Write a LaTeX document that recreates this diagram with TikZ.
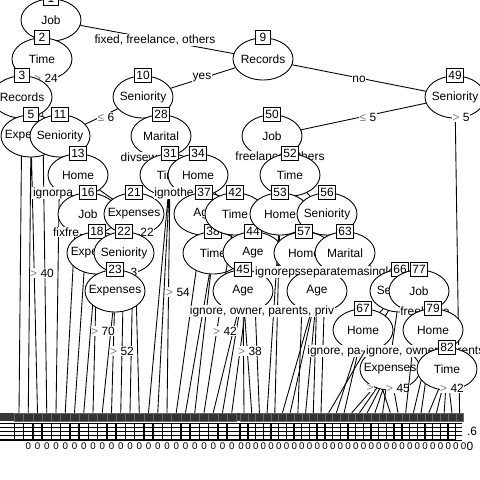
\documentclass[tikz,border=0pt]{standalone}
\usepackage{fontspec}
\setmainfont{Liberation Sans}
\usetikzlibrary{shapes.geometric}
\newcommand{\ctr}[1]{\makebox[0pt]{#1}}
\newcommand{\gsym}[1]{\textcolor{black!50}{#1}}
\newcommand{\treenode}[2]{\node[inner] (n#1) at (c#1) {\ctr{#2}};\node[idbox] (b#1) at (n#1.north) {#1};}
\begin{document}
\begin{tikzpicture}[x=0.03cm,y=-0.03cm,line width=0.75pt,
 every node/.style={font=\fontsize{10.2}{12}\selectfont},
 inner/.style={ellipse,draw,fill=white,minimum width=1.8cm,minimum height=1.26cm,inner sep=0pt},
 idbox/.style={draw,fill=white,inner xsep=1.6pt,inner ysep=0pt,minimum width=12.8pt,minimum height=12.5pt},
 elab/.style={fill=white,inner sep=0.5pt},
 thead/.style={draw=black!60,fill=black!80,minimum height=0.24cm,inner sep=0pt,line width=0.4pt},
 zero/.style={font=\fontsize{8.3}{9}\selectfont,inner sep=0pt},
 barline/.style={line width=1.2pt},
]
\useasboundingbox (0,0) rectangle (480,480);
% centres of the inner nodes
\coordinate (c1) at (51,20);
\coordinate (c2) at (42,59);
\coordinate (c3) at (22,97);
\coordinate (c5) at (31,136);
\coordinate (c9) at (263,59);
\coordinate (c10) at (143,97);
\coordinate (c11) at (60,136);
\coordinate (c13) at (78,175);
\coordinate (c16) at (88,214);
\coordinate (c18) at (97,253);
\coordinate (c21) at (134,214);
\coordinate (c22) at (124,253);
\coordinate (c23) at (115,291);
\coordinate (c28) at (161,136);
\coordinate (c31) at (170,175);
\coordinate (c34) at (198,175);
\coordinate (c37) at (204,214);
\coordinate (c38) at (213,253);
\coordinate (c42) at (235,214);
\coordinate (c44) at (253,253);
\coordinate (c45) at (243,291);
\coordinate (c49) at (455,97);
\coordinate (c50) at (272,136);
\coordinate (c52) at (290,175);
\coordinate (c53) at (280,214);
\coordinate (c56) at (327,214);
\coordinate (c57) at (304,253);
\coordinate (c59) at (317,291);
\coordinate (c63) at (345,253);
\coordinate (c66) at (400,291);
\coordinate (c67) at (363,330);
\coordinate (c68) at (390,369);
\coordinate (c77) at (419,291);
\coordinate (c79) at (433,330);
\coordinate (c82) at (447,369);

% terminal strip
\fill[black!78] (0,413) rectangle (463,421);
\foreach \k in {0,...,23}{
  \pgfmathsetmacro{\tx}{19+9.25*\k}
  \node[thead,minimum width=0.2775cm] (t\k) at (\tx,417) {};
  \draw[barline] (\tx-4.6,423) -- (\tx-4.6,440);
  \node[zero] (z\k) at (\tx+9.3,446) {0};
}
\foreach \k in {0,...,28}{
  \pgfmathsetmacro{\ux}{244+7.7*\k}
  \node[thead,minimum width=0.231cm] (u\k) at (\ux,417) {};
  \draw[barline] (\ux-3.85,423) -- (\ux-3.85,440);
  \node[zero] (y\k) at (\ux+4,446) {0};
}
\foreach \yy in {423.5,427.5,431.5,435.5}{\draw[barline] (0,\yy) -- (455,\yy);}
\foreach \yy in {423.5,427.5,431.5,435.5,440}{\draw[line width=0.6pt] (455,\yy) -- (462,\yy);}
\draw[line width=1.6pt] (0,440) -- (455,440);
\node[inner sep=0pt] (ax1) at (472,431) {.6};
\node[inner sep=0pt] (ax2) at (470,446) {0};

% inner nodes in depth-first order
\treenode{1}{Job}
\draw (n1) -- (c2) (n1) -- (c9);
\node[elab] (l1) at (155,40) {fixed, freelance, others};

\treenode{2}{Time}
\draw (n2) -- (c3) (n2) -- (t3.north);
\node[elab] (l2) at (46,78) {\gsym{>} 24};

\treenode{3}{Records}
\draw (n3) -- (t0.north) (n3) -- (c5);

\treenode{5}{Expenses}
\draw (n5) -- (t1.north) (n5) -- (t2.north);

\treenode{9}{Records}
\draw (n9) -- (c10) (n9) -- (c49);
\node[elab] (l3) at (202,78) {yes};
\node[elab] (l4) at (359,79) {no};

\treenode{10}{Seniority}
\draw (n10) -- (c11) (n10) -- (c28);
\node[elab] (l5) at (106,117) {\gsym{≤} 6};

\treenode{11}{Seniority}
\draw (n11) -- (t4.north) (n11) -- (c13);

\treenode{13}{Home}
\draw (n13) -- (t5.north) (n13) -- (c16) (n13) -- (c21);
\node[elab] (l6) at (53,193) {ignorpa};

\treenode{16}{Job}
\draw (n16) -- (t6.north) (n16) -- (c18);
\node[elab] (l7) at (66,232) {fixfre};

\treenode{18}{Expenses}
\draw (n18) -- (t7.north) (n18) -- (t8.north);
\node[elab] (l8) at (42,273) {\gsym{>} 40};

\treenode{21}{Expenses}
\draw (n21) -- (c22) (n21) -- (t12.north) (n21) -- (t13.north);
\node[elab] (l9) at (147,232) {22};

\treenode{22}{Seniority}
\draw (n22) -- (c23) (n22) -- (t11.north);
\node[elab] (l10) at (134,272) {3};

\treenode{23}{Expenses}
\draw (n23) -- (t9.north) (n23) -- (t10.north);
\node[elab] (l11) at (103,331) {\gsym{>} 70};
\node[elab] (l12) at (122,351) {\gsym{>} 52};

\treenode{28}{Marital}
\draw (n28) -- (c31) (n28) -- (c34);
\node[elab] (l13) at (139,157) {divsew};

\treenode{31}{Time}
\draw (n31) -- (t14.north) (n31) -- (t15.north) (n31) -- (t16.north);

\treenode{34}{Home}
\draw (n34) -- (c37) (n34) -- (c42);
\node[elab] (l14) at (174,193) {ignothe};

\treenode{37}{Age}
\draw (n37) -- (c38) (n37) -- (t17.north);

\treenode{38}{Time}
\draw (n38) -- (t18.north) (n38) -- (t19.north);
\node[elab] (l15) at (178,292) {\gsym{>} 54};

\treenode{42}{Time}
\draw (n42) -- (c44) (n42) -- (t20.north);

\treenode{44}{Age}
\draw (n44) -- (c45) (n44) -- (t23.north) (n44) -- (u2.north);

\treenode{45}{Age}
\draw (n45) -- (t21.north) (n45) -- (t22.north) (n45) -- (u0.north) (n45) -- (u1.north);
\node[elab] (l16) at (225,331) {\gsym{>} 42};
\node[elab] (l17) at (250,351) {\gsym{>} 38};

\treenode{49}{Seniority}
\draw (n49) -- (c50) (n49) -- (u28.north);
\node[elab] (l18) at (368,117) {\gsym{≤} 5};
\node[elab] (l19) at (461,117) {\gsym{>} 5};

\treenode{50}{Job}
\draw (n50) -- (c52);
\node[elab] (l20) at (280,157) {freelance, others};

\treenode{52}{Time}
\draw (n52) -- (c53) (n52) -- (c56);

\treenode{53}{Home}
\draw (n53) -- (c57) (n53) -- (u3.north) (n53) -- (u4.north);

\treenode{56}{Seniority}
\draw (n56) -- (c63) (n56) -- (u10.north);

\treenode{57}{Home}
\draw (n57) -- (c59) (n57) -- (u7.north);
\node[elab] (l21) at (278,272) {ignoreps};

\node[inner] (n59) at (c59) {\ctr{Age}};
\draw (n59) -- (u5.north) (n59) -- (u6.north) (n59) -- (u8.north) (n59) -- (u9.north);
\node[elab] (l22) at (262,311) {ignore, owner, parents, priv};

\treenode{63}{Marital}
\draw (n63) -- (c66) (n63) -- (c77);
\node[elab] (l23) at (327,272) {separated};
\node[elab] (l24) at (371,272) {masingle};

\treenode{66}{Seniority}
\draw (n66) -- (c67) (n66) -- (u11.north) (n66) -- (u18.north);

\treenode{67}{Home}
\draw (n67) -- (c68) (n67) -- (u12.north) (n67) -- (u13.north) (n67) -- (u19.north);
\node[elab] (l25) at (334,351) {ignore, pa};

\node[inner] (n68) at (c68) {\ctr{Expenses}};
\draw (n68) -- (u14.north) (n68) -- (u15.north) (n68) -- (u16.north) (n68) -- (u17.north) (n68) -- (u20.north);
\node[elab] (l26) at (370,388) {\gsym{>}};
\node[elab] (l27) at (398,388) {\gsym{>} 45};

\treenode{77}{Job}
\draw (n77) -- (c79) (n77) -- (u21.north);
\node[elab] (l28) at (425,311) {freelance};

\treenode{79}{Home}
\draw (n79) -- (c82) (n79) -- (u22.north) (n79) -- (u23.north);
\node[elab,anchor=west] (l29) at (365,351) {ignore, owner, parents, priv, rent};

\treenode{82}{Time}
\draw (n82) -- (u24.north) (n82) -- (u25.north) (n82) -- (u26.north) (n82) -- (u27.north);
\node[elab] (l30) at (452,388) {\gsym{>} 42};
\end{tikzpicture}
\end{document}
